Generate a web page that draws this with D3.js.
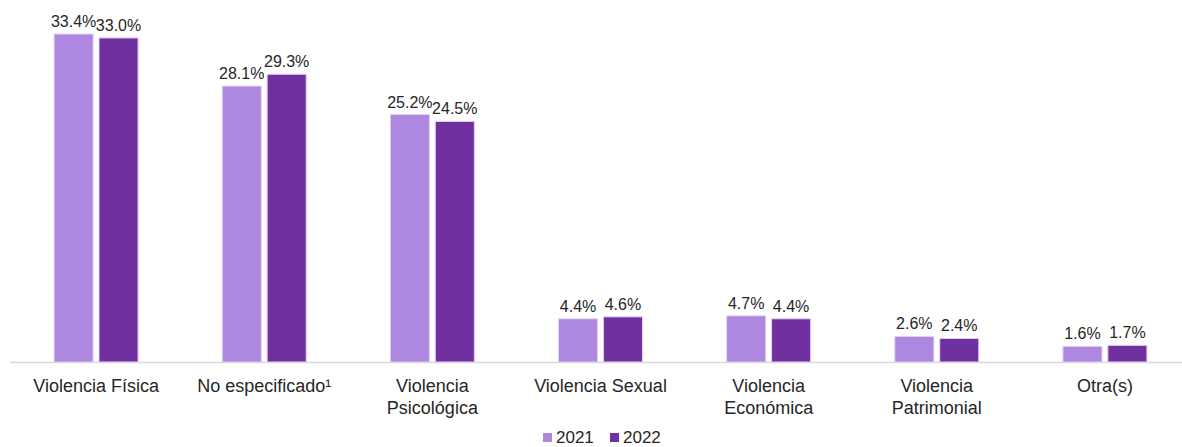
<!DOCTYPE html>
<html>
<head>
<meta charset="utf-8">
<script src="https://cdn.jsdelivr.net/npm/d3@7"></script>
<style>
  body { margin: 0; background: #fff; }
  svg { display: block; font-family: "Liberation Sans", Arial, sans-serif; }
</style>
</head>
<body>
<div id="chart"></div>
<script>
const categories = [
  ["Violencia Física"],
  ["No especificado¹"],
  ["Violencia", "Psicológica"],
  ["Violencia Sexual"],
  ["Violencia", "Económica"],
  ["Violencia", "Patrimonial"],
  ["Otra(s)"]
];
const years = ["2021", "2022"];
const values2021 = [33.4, 28.1, 25.2, 4.4, 4.7, 2.6, 1.6];
const values2022 = [33.0, 29.3, 24.5, 4.6, 4.4, 2.4, 1.7];
const colors = ["#ae88e0", "#7030a0"];

const width = 1182, height = 447;
const baseY = 362;

const svg = d3.select("#chart").append("svg")
  .attr("width", width).attr("height", height);

const x = d3.scaleBand().domain(d3.range(categories.length)).range([12, 1189]).padding(0);
const x1 = d3.scaleBand().domain(years).range([0, 84]).paddingInner(0.13);
const y = d3.scaleLinear().domain([0, 33.4]).range([baseY, 34]);

const series = [values2021, values2022];

// axis line
svg.append("line")
  .attr("x1", 10).attr("x2", width)
  .attr("y1", baseY + 0.5).attr("y2", baseY + 0.5)
  .attr("stroke", "#d9d9d9").attr("stroke-width", 1.5);

const groups = svg.selectAll("g.cat")
  .data(categories)
  .join("g")
  .attr("class", "cat")
  .attr("transform", (d, i) => `translate(${x(i) + x.bandwidth() / 2 - 42},0)`);

years.forEach((yr, s) => {
  groups.append("rect")
    .attr("x", x1(yr))
    .attr("width", x1.bandwidth())
    .attr("y", (d, i) => y(series[s][i]))
    .attr("height", (d, i) => baseY - y(series[s][i]))
    .attr("fill", colors[s])
    .attr("stroke", "#e2d4f3")
    .attr("stroke-width", 1);
  groups.append("text")
    .attr("x", x1(yr) + x1.bandwidth() / 2)
    .attr("y", (d, i) => y(series[s][i]) - 7)
    .attr("text-anchor", "middle")
    .attr("font-size", "16px")
    .attr("fill", "#262626")
    .text((d, i) => series[s][i].toFixed(1) + "%");
});

// category labels
groups.append("text")
  .attr("x", 42)
  .attr("y", 392)
  .attr("text-anchor", "middle")
  .attr("font-size", "18px")
  .attr("fill", "#262626")
  .selectAll("tspan")
  .data(d => d)
  .join("tspan")
  .attr("x", 42)
  .attr("dy", (d, i) => i === 0 ? 0 : 21.5)
  .text(d => d);

// legend
const legend = svg.append("g").attr("transform", "translate(543,0)");
const legX = [0, 67];
years.forEach((yr, s) => {
  legend.append("rect")
    .attr("x", legX[s]).attr("y", 433)
    .attr("width", 9).attr("height", 9)
    .attr("fill", colors[s]);
  legend.append("text")
    .attr("x", legX[s] + 13).attr("y", 443)
    .attr("font-size", "17px")
    .attr("fill", "#262626")
    .text(yr);
});
</script>
</body>
</html>
